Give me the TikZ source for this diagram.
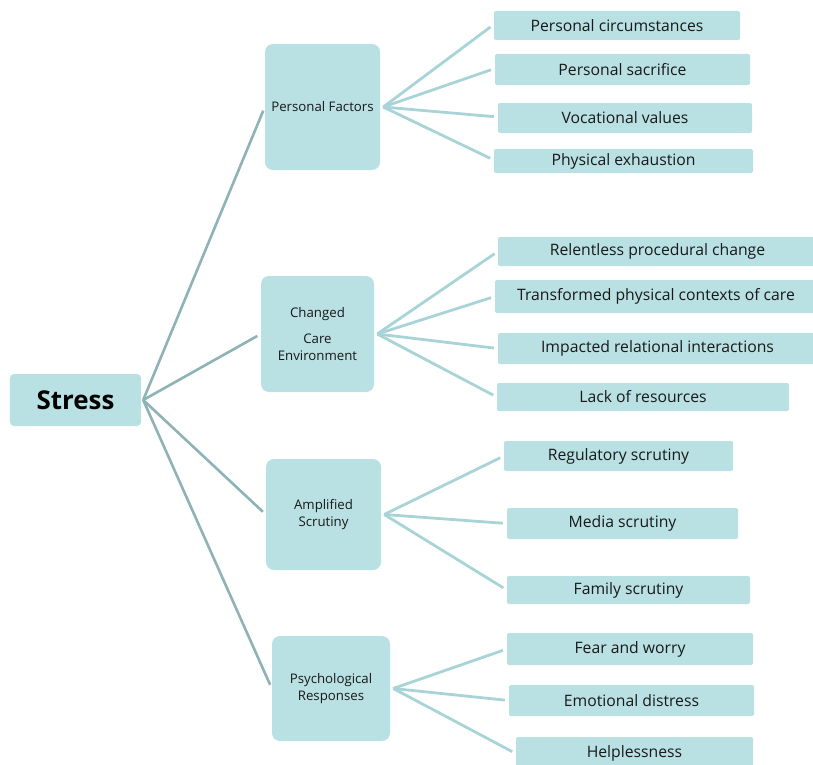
\documentclass[tikz,border=0pt]{standalone}
\usepackage{fontspec}
\setmainfont{Open Sans}
\definecolor{boxfill}{HTML}{B9E0E3}
\definecolor{trunk}{HTML}{8DB3B6}
\definecolor{branch}{HTML}{A8D4D7}
\begin{document}
\begin{tikzpicture}[x=1bp,y=-1bp,
  leaf/.style={rectangle, fill=boxfill, rounded corners=2bp, inner sep=0pt,
    font=\fontsize{15.8}{18}\selectfont, text=black!90},
  mid/.style={rectangle, fill=boxfill, rounded corners=8bp, inner sep=0pt,
    font=\fontsize{13.3}{17}\selectfont, align=center, text=black!90},
  root/.style={rectangle, fill=boxfill, rounded corners=4bp, inner sep=0pt,
    font=\fontsize{26}{30}\selectfont\bfseries},
  trunkline/.style={draw=trunk, line width=2.6bp, shorten >=4bp},
  branchline/.style={draw=branch, line width=2.8bp, shorten >=4bp}]
\useasboundingbox (0,0) rectangle (813,765);
% root
\node[root, minimum width=131bp, minimum height=52bp] (st) at (75.5,400) {Stress};
% mid nodes
\node[mid, minimum width=115bp, minimum height=126bp] (pf) at (322.5,107) {Personal Factors};
\node[mid, minimum width=113bp, minimum height=116bp] (cce) at (317.5,334) {Changed\\[9bp]Care\\Environment};
\node[mid, minimum width=115bp, minimum height=111bp] (as) at (323.5,514.5) {Amplified\\Scrutiny};
\node[mid, minimum width=118bp, minimum height=105bp] (pr) at (331,688.5) {Psychological\\Responses};
% leaves
\node[leaf, minimum width=246bp, minimum height=29bp] (l1) at (617,25.5) {Personal circumstances};
\node[leaf, minimum width=255bp, minimum height=31bp] (l2) at (622.5,69.5) {Personal sacrifice};
\node[leaf, minimum width=254bp, minimum height=30bp] (l3) at (625,118) {Vocational values};
\node[leaf, minimum width=259bp, minimum height=24bp] (l4) at (623.5,161) {Physical exhaustion};
\node[leaf, minimum width=319bp, minimum height=29bp] (l5) at (657.5,251.5) {Relentless procedural change};
\node[leaf, minimum width=322bp, minimum height=33bp] (l6) at (656,296.5) {Transformed physical contexts of care};
\node[leaf, minimum width=319bp, minimum height=31bp] (l7) at (657.5,348.5) {Impacted relational interactions};
\node[leaf, minimum width=292bp, minimum height=28bp] (l8) at (643,397) {Lack of resources};
\node[leaf, minimum width=229bp, minimum height=30bp] (l9) at (618.5,456) {Regulatory scrutiny};
\node[leaf, minimum width=231bp, minimum height=31bp] (l10) at (622.5,523.5) {Media scrutiny};
\node[leaf, minimum width=243bp, minimum height=28bp] (l11) at (628.5,590) {Family scrutiny};
\node[leaf, minimum width=246bp, minimum height=32bp] (l12) at (630,649) {Fear and worry};
\node[leaf, minimum width=245bp, minimum height=31bp] (l13) at (631.5,700.5) {Emotional distress};
\node[leaf, minimum width=237bp, minimum height=33bp] (l14) at (634.5,753.5) {Helplessness};
% trunk connectors
\coordinate (stx) at ([xshift=2bp]st.east);
\foreach \m in {pf,cce,as,pr}
  \draw[trunkline] (stx) -- (\m.west);
% branch connectors
\coordinate (pfx) at ([xshift=3bp]pf.east);
\coordinate (ccex) at ([xshift=3bp]cce.east);
\coordinate (asx) at ([xshift=3bp]as.east);
\coordinate (prx) at ([xshift=3bp]pr.east);
\foreach \l in {l1,l2,l3,l4} \draw[branchline] (pfx) -- ([yshift=1bp]\l.west);
\foreach \l in {l5,l6,l7,l8} \draw[branchline] (ccex) -- (\l.west);
\foreach \l in {l9,l10,l11} \draw[branchline] (asx) -- (\l.west);
\foreach \l in {l12,l13,l14} \draw[branchline] (prx) -- (\l.west);
\end{tikzpicture}
\end{document}
